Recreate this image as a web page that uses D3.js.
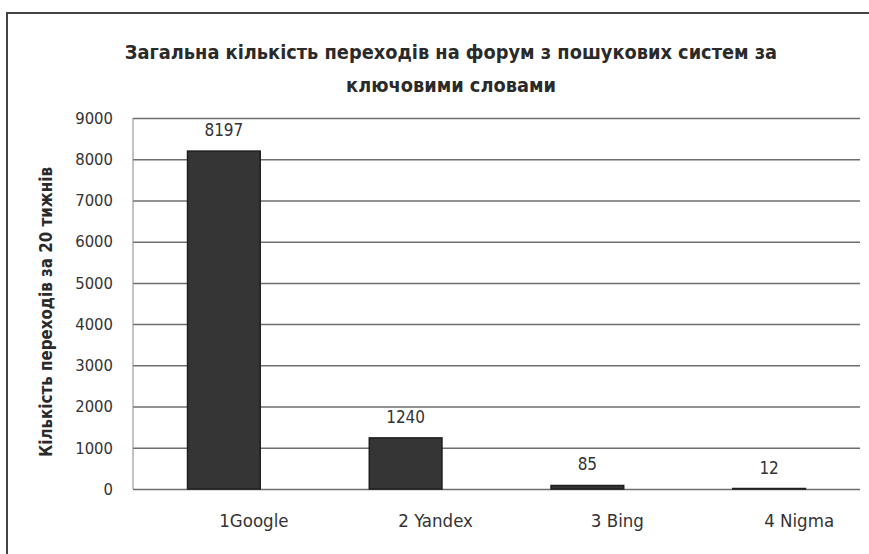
<!DOCTYPE html>
<html><head><meta charset="utf-8">
<script src="https://cdn.jsdelivr.net/npm/d3@7"></script>
<style>body{margin:0;background:#fff}svg{display:block}</style>
</head><body>
<script>
const categories = ["1Google", "2 Yandex", "3 Bing", "4 Nigma"];
const values = [8197, 1240, 85, 12];
const yTicks = [0, 1000, 2000, 3000, 4000, 5000, 6000, 7000, 8000, 9000];
const titleLines = ["Загальна кількість переходів на форум з пошукових систем за", "ключовими словами"];
const yTitle = "Кількість переходів за 20 тижнів";

const W = 869, H = 554;
const m = {left: 133, right: 9, top: 118, bottom: 65};
const svg = d3.select("body").append("svg").attr("width", W).attr("height", H);
const font = "'DejaVu Sans Condensed', 'Liberation Sans', sans-serif";

// frame
svg.append("path").attr("d", `M7,${H+5} L7,13 L${W+5},13`).attr("fill","none").attr("stroke","#444").attr("stroke-width",2);

const x = d3.scaleBand().domain(categories).range([m.left, W - m.right]).paddingInner(0.6).paddingOuter(0.3);
const y = d3.scaleLinear().domain([0, 9000]).range([H - m.bottom, m.top]);

// gridlines
svg.append("g").attr("transform", `translate(${m.left},0)`)
  .call(d3.axisLeft(y).tickValues(yTicks).tickSize(-(W - m.right - m.left)).tickFormat(""))
  .call(g => g.select(".domain").remove())
  .selectAll("line").attr("stroke", "#6e6e6e").attr("stroke-width", 1.5);

// left axis line
svg.append("line").attr("x1", m.left).attr("x2", m.left).attr("y1", y(9000)).attr("y2", y(0)).attr("stroke","#888").attr("stroke-width",1);

// tick labels
svg.append("g").attr("transform", `translate(${m.left},0)`)
  .call(d3.axisLeft(y).tickValues(yTicks).tickSize(0).tickPadding(20).tickFormat(d3.format("d")))
  .call(g => g.select(".domain").remove())
  .selectAll("text").attr("font-family", font).attr("font-size", 16.5).attr("fill", "#333");

// bars
svg.append("g").selectAll("rect").data(values).join("rect")
  .attr("x", (d,i) => x(categories[i]))
  .attr("width", x.bandwidth())
  .attr("y", d => y(d))
  .attr("height", d => y(0) - y(d))
  .attr("fill", "#353535").attr("stroke", "#1e1e1e").attr("stroke-width", 1.5);

// value labels
svg.append("g").selectAll("text").data(values).join("text")
  .attr("x", (d,i) => x(categories[i]) + x.bandwidth()/2)
  .attr("y", d => y(d) - 15)
  .attr("text-anchor", "middle")
  .attr("font-family", font).attr("font-size", 17).attr("fill", "#333")
  .text(d => d);

// x axis labels
svg.append("g").attr("transform", `translate(0,${y(0)})`)
  .call(d3.axisBottom(x).tickSize(0).tickPadding(25))
  .call(g => g.select(".domain").remove())
  .selectAll("text").attr("font-family", font).attr("font-size", 18.5).attr("fill", "#333").attr("dx", 30);

// title
svg.append("g").selectAll("text").data(titleLines).join("text")
  .attr("x", 451).attr("y", (d,i) => 59 + i*33)
  .attr("text-anchor", "middle")
  .attr("font-family", font).attr("font-weight", "bold").attr("font-size", 19.8).attr("fill", "#2a2a2a")
  .text(d => d);

// y title
svg.append("text").attr("transform", `translate(52,312) rotate(-90)`)
  .attr("text-anchor", "middle")
  .attr("font-family", font).attr("font-weight", "bold").attr("font-size", 16.8).attr("fill", "#2a2a2a")
  .text(yTitle);
</script>
</body></html>
